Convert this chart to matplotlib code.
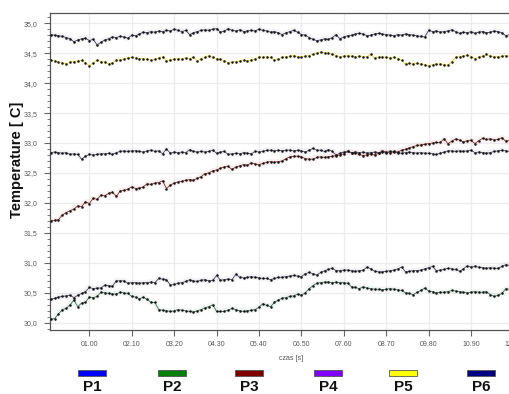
import numpy as np
import matplotlib
matplotlib.use("Agg")
import matplotlib.pyplot as plt
from matplotlib.ticker import MultipleLocator, FuncFormatter
from matplotlib.patches import Rectangle

# sampling step of the logger [s]
step = 0.1

p1 = [30.39, 30.41, 30.43, 30.44, 30.45, 30.46, 30.42, 30.46, 30.49, 30.52,
      30.59, 30.57, 30.58, 30.58, 30.63, 30.62, 30.61, 30.70, 30.70, 30.70,
      30.66, 30.67, 30.67, 30.66, 30.67, 30.67, 30.68, 30.67, 30.74, 30.73,
      30.72, 30.63, 30.64, 30.66, 30.67, 30.69, 30.72, 30.70, 30.69, 30.71,
      30.72, 30.70, 30.71, 30.79, 30.71, 30.72, 30.73, 30.72, 30.81, 30.76,
      30.75, 30.76, 30.77, 30.76, 30.75, 30.74, 30.74, 30.72, 30.74, 30.76,
      30.76, 30.77, 30.78, 30.79, 30.78, 30.77, 30.82, 30.84, 30.82, 30.80,
      30.84, 30.87, 30.89, 30.91, 30.87, 30.87, 30.88, 30.88, 30.87, 30.86,
      30.87, 30.88, 30.93, 30.90, 30.86, 30.85, 30.85, 30.86, 30.87, 30.88,
      30.90, 30.93, 30.85, 30.86, 30.87, 30.87, 30.88, 30.90, 30.92, 30.94,
      30.87, 30.88, 30.89, 30.91, 30.90, 30.89, 30.86, 30.90, 30.95, 30.93,
      30.94, 30.93, 30.92, 30.91, 30.92, 30.91, 30.91, 30.94, 30.97, 30.96,
      30.95]

p2 = [30.06, 30.07, 30.15, 30.22, 30.24, 30.30, 30.38, 30.27, 30.33, 30.34,
      30.43, 30.42, 30.44, 30.51, 30.50, 30.49, 30.48, 30.48, 30.51, 30.50,
      30.49, 30.44, 30.43, 30.40, 30.43, 30.39, 30.34, 30.34, 30.22, 30.21,
      30.20, 30.19, 30.20, 30.22, 30.21, 30.20, 30.19, 30.18, 30.20, 30.22,
      30.25, 30.27, 30.30, 30.19, 30.19, 30.19, 30.21, 30.24, 30.22, 30.20,
      30.19, 30.20, 30.21, 30.22, 30.26, 30.32, 30.29, 30.27, 30.34, 30.38,
      30.41, 30.42, 30.44, 30.45, 30.48, 30.46, 30.50, 30.57, 30.62, 30.66,
      30.67, 30.68, 30.68, 30.67, 30.68, 30.67, 30.67, 30.66, 30.60, 30.59,
      30.57, 30.60, 30.58, 30.57, 30.56, 30.56, 30.55, 30.56, 30.57, 30.56,
      30.55, 30.54, 30.50, 30.49, 30.47, 30.51, 30.54, 30.58, 30.53, 30.52,
      30.50, 30.51, 30.51, 30.52, 30.54, 30.53, 30.52, 30.51, 30.50, 30.51,
      30.52, 30.51, 30.51, 30.52, 30.47, 30.44, 30.46, 30.49, 30.57, 30.56,
      30.56]

p3 = [31.70, 31.71, 31.72, 31.80, 31.84, 31.87, 31.90, 31.95, 31.94, 32.02,
      31.99, 32.08, 32.06, 32.13, 32.12, 32.16, 32.18, 32.11, 32.20, 32.21,
      32.23, 32.27, 32.24, 32.25, 32.27, 32.32, 32.31, 32.33, 32.34, 32.37,
      32.24, 32.30, 32.33, 32.35, 32.36, 32.38, 32.39, 32.38, 32.41, 32.44,
      32.49, 32.50, 32.54, 32.55, 32.58, 32.60, 32.61, 32.56, 32.60, 32.62,
      32.64, 32.63, 32.67, 32.65, 32.64, 32.66, 32.68, 32.69, 32.68, 32.69,
      32.70, 32.74, 32.77, 32.78, 32.78, 32.77, 32.74, 32.73, 32.73, 32.76,
      32.77, 32.76, 32.77, 32.78, 32.79, 32.80, 32.82, 32.86, 32.84, 32.83,
      32.81, 32.79, 32.80, 32.82, 32.80, 32.83, 32.87, 32.85, 32.83, 32.86,
      32.85, 32.88, 32.90, 32.92, 32.94, 32.96, 32.97, 32.98, 32.99, 33.00,
      33.01, 33.01, 33.07, 32.99, 33.03, 33.07, 33.05, 33.02, 33.04, 33.05,
      32.99, 33.04, 33.08, 33.06, 33.07, 33.05, 33.06, 33.09, 33.03, 33.05,
      33.07]

p4 = [32.84, 32.85, 32.84, 32.83, 32.84, 32.81, 32.82, 32.81, 32.73, 32.78,
      32.81, 32.80, 32.81, 32.82, 32.82, 32.83, 32.81, 32.84, 32.86, 32.87,
      32.86, 32.87, 32.87, 32.86, 32.85, 32.87, 32.88, 32.86, 32.87, 32.82,
      32.90, 32.83, 32.85, 32.84, 32.85, 32.84, 32.89, 32.86, 32.85, 32.86,
      32.85, 32.86, 32.88, 32.83, 32.85, 32.86, 32.81, 32.82, 32.83, 32.82,
      32.84, 32.83, 32.82, 32.86, 32.85, 32.86, 32.88, 32.88, 32.87, 32.88,
      32.87, 32.88, 32.88, 32.87, 32.88, 32.87, 32.85, 32.88, 32.91, 32.88,
      32.88, 32.86, 32.89, 32.86, 32.80, 32.83, 32.85, 32.86, 32.84, 32.85,
      32.84, 32.85, 32.83, 32.84, 32.85, 32.84, 32.85, 32.84, 32.86, 32.85,
      32.84, 32.83, 32.84, 32.85, 32.84, 32.83, 32.84, 32.83, 32.83, 32.82,
      32.81, 32.83, 32.85, 32.87, 32.87, 32.86, 32.87, 32.86, 32.87, 32.88,
      32.84, 32.85, 32.84, 32.83, 32.84, 32.86, 32.87, 32.88, 32.87, 32.86,
      32.88]

p5 = [34.38, 34.37, 34.35, 34.34, 34.32, 34.35, 34.36, 34.37, 34.38, 34.34,
      34.29, 34.34, 34.38, 34.36, 34.35, 34.32, 34.34, 34.38, 34.39, 34.41,
      34.42, 34.43, 34.42, 34.41, 34.41, 34.40, 34.38, 34.40, 34.42, 34.44,
      34.37, 34.39, 34.40, 34.41, 34.40, 34.42, 34.41, 34.43, 34.37, 34.41,
      34.43, 34.46, 34.43, 34.41, 34.40, 34.37, 34.34, 34.35, 34.36, 34.37,
      34.38, 34.37, 34.39, 34.40, 34.44, 34.43, 34.44, 34.43, 34.38, 34.40,
      34.43, 34.44, 34.45, 34.46, 34.44, 34.44, 34.45, 34.46, 34.48, 34.50,
      34.52, 34.51, 34.50, 34.48, 34.46, 34.44, 34.45, 34.46, 34.45, 34.44,
      34.45, 34.44, 34.44, 34.48, 34.42, 34.43, 34.44, 34.43, 34.42, 34.43,
      34.41, 34.38, 34.32, 34.33, 34.32, 34.33, 34.32, 34.31, 34.29, 34.31,
      34.32, 34.32, 34.31, 34.30, 34.36, 34.43, 34.44, 34.45, 34.47, 34.44,
      34.41, 34.43, 34.45, 34.48, 34.45, 34.44, 34.44, 34.45, 34.46, 34.45,
      34.49]

p6 = [34.81, 34.80, 34.79, 34.78, 34.76, 34.74, 34.69, 34.72, 34.74, 34.75,
      34.71, 34.73, 34.64, 34.68, 34.72, 34.74, 34.77, 34.76, 34.78, 34.77,
      34.75, 34.80, 34.79, 34.82, 34.85, 34.84, 34.86, 34.85, 34.87, 34.86,
      34.88, 34.87, 34.90, 34.88, 34.86, 34.88, 34.81, 34.84, 34.86, 34.88,
      34.89, 34.88, 34.90, 34.91, 34.85, 34.87, 34.91, 34.88, 34.87, 34.89,
      34.86, 34.87, 34.88, 34.87, 34.90, 34.88, 34.87, 34.85, 34.86, 34.84,
      34.81, 34.84, 34.86, 34.88, 34.85, 34.81, 34.80, 34.76, 34.73, 34.71,
      34.72, 34.74, 34.73, 34.76, 34.81, 34.74, 34.77, 34.79, 34.80, 34.82,
      34.83, 34.82, 34.79, 34.80, 34.82, 34.83, 34.82, 34.81, 34.80, 34.79,
      34.81, 34.80, 34.82, 34.81, 34.80, 34.79, 34.78, 34.77, 34.88, 34.86,
      34.87, 34.85, 34.86, 34.87, 34.89, 34.86, 34.83, 34.85, 34.84, 34.86,
      34.83, 34.85, 34.86, 34.84, 34.85, 34.87, 34.86, 34.84, 34.79, 34.81,
      34.83]

series_names = ["P1", "P2", "P3", "P4", "P5", "P6"]
series_values = [p1, p2, p3, p4, p5, p6]
legend_colors = ["#0000ff", "#008000", "#800000", "#8000ff", "#ffff00", "#000080"]
line_colors = ["#45455a", "#3f6a50", "#8a2a2a", "#50455f", "#e0d040", "#40405a"]
halo_colors = ["#a0a0b0", "#90b0a0", "#d09090", "#a8a0b8", "#fff080", "#a0a0b0"]

x_ticks = [1.0, 2.1, 3.2, 4.3, 5.4, 6.5, 7.6, 8.7, 9.8, 10.9, 12.0]

W, H = 510, 394
fig = plt.figure(figsize=(W / 100, H / 100), dpi=100)
fig.patch.set_facecolor("white")

ax_left, ax_bottom, ax_top = 50, 330, 13
px_per_s = 38.56
x0, x1 = -0.02, 12.5
ax = fig.add_axes([ax_left / W, 1 - ax_bottom / H,
                   (x1 - x0) * px_per_s / W, (ax_bottom - ax_top) / H])

for vals, lc, hc in zip(series_values, line_colors, halo_colors):
    t = np.arange(len(vals)) * step
    ax.plot(t, vals, color=hc, lw=4.0, alpha=0.13, solid_capstyle="round", zorder=2)
    ax.plot(t, vals, color=lc, lw=0.6, zorder=3)
    ax.plot(t, vals, ls="none", marker="o", ms=1.8, mfc="#151515", mec="#151515",
            mew=0.0, zorder=4)

ax.set_xlim(x0, x1)
ax.set_ylim(29.88, 35.17)

ax.yaxis.set_major_locator(MultipleLocator(0.5))
ax.yaxis.set_minor_locator(MultipleLocator(0.1))
ax.yaxis.set_major_formatter(FuncFormatter(lambda v, _: f"{v:.1f}".replace(".", ",")))
ax.set_xticks(x_ticks)
ax.set_xticklabels([f"{v:05.2f}" for v in x_ticks])

for lab in ax.get_xticklabels() + ax.get_yticklabels():
    lab.set_fontfamily("Liberation Sans")
    lab.set_fontsize(5)
    lab.set_color("#555555")

ax.tick_params(axis="both", which="major", direction="out", length=4, width=0.8,
               color="#666666", pad=5)
ax.tick_params(axis="y", which="minor", direction="out", length=2.5, width=0.7,
               color="#777777")
ax.tick_params(axis="x", which="major", pad=4)

ax.grid(True, which="major", color="#ececec", lw=0.9)
ax.set_axisbelow(True)

for side in ["left", "bottom", "top"]:
    ax.spines[side].set_color("#555555")
    ax.spines[side].set_linewidth(0.9)
ax.spines["right"].set_visible(False)

ax.set_xlabel("czas [s]", fontsize=5, family="Liberation Sans", color="#555555",
              labelpad=5)
fig.text(17 / W, 1 - 160 / H, "Temperature [ C]", rotation=90, ha="center",
         va="center", fontsize=10.5, fontweight="bold", family="Liberation Sans",
         color="#111111")

# legend: colour chips with the series names underneath
legend_centers = [92, 172, 249, 328, 403, 481]
for name, col, cx in zip(series_names, legend_colors, legend_centers):
    fig.patches.append(Rectangle(((cx - 14) / W, 1 - 376 / H), 28 / W, 6.5 / H,
                                 transform=fig.transFigure, facecolor=col,
                                 edgecolor="#555555", lw=0.6))
    fig.text(cx / W, 1 - 391 / H, name, ha="center", va="baseline", fontsize=11,
             fontweight="bold", family="Liberation Sans", color="#111111")

fig.savefig("out.png", dpi=100)
